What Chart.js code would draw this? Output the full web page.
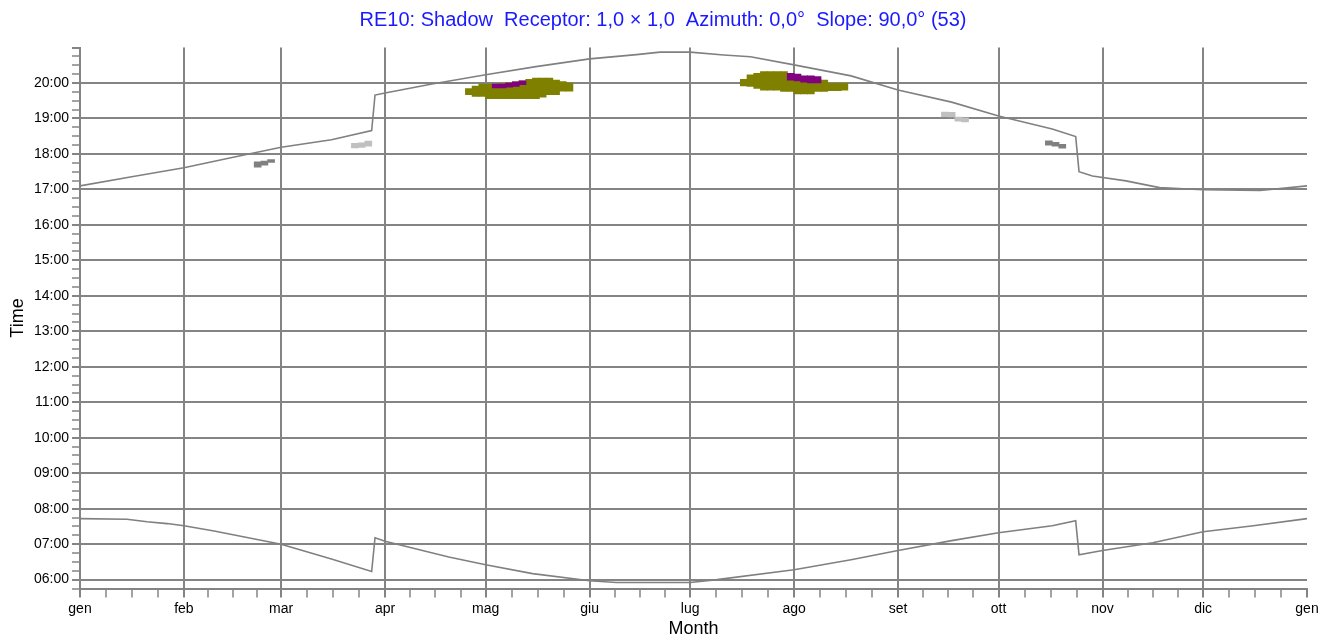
<!DOCTYPE html>
<html>
<head>
<meta charset="utf-8">
<title>RE10 Shadow</title>
<script src="https://cdn.jsdelivr.net/npm/chart.js@4.4.1/dist/chart.umd.min.js"></script>
<style>
    html, body { margin: 0; padding: 0; background: #fff; }
    canvas { display: block; }
</style>
</head>
<body>
<canvas id="shadowChart" width="1337" height="640"></canvas>
<script>
// Month starts as day of a leap year, and their labels
const monthStarts = [0, 31, 60, 91, 121, 152, 182, 213, 244, 274, 305, 335, 366];
const monthLabels = ['gen', 'feb', 'mar', 'apr', 'mag', 'giu', 'lug', 'ago', 'set', 'ott', 'nov', 'dic', 'gen'];

// Sunset (upper line), hours
const sunsetDays  = [0, 15, 31, 45, 60, 75, 87, 88, 91, 105, 121, 136, 152, 166, 173, 182, 192, 200, 213, 230, 244, 260, 274, 290, 297, 298, 302, 312, 322, 335, 352, 366];
const sunsetTimes = [17.10, 17.35, 17.61, 17.89, 18.19, 18.40, 18.66, 19.66, 19.72, 19.97, 20.23, 20.46, 20.68, 20.80, 20.87, 20.87, 20.79, 20.74, 20.51, 20.20, 19.80, 19.46, 19.07, 18.70, 18.49, 17.50, 17.38, 17.24, 17.05, 16.99, 16.97, 17.10];

// Sunrise (lower line), hours
const sunriseDays  = [0, 14, 20, 26, 31, 40, 60, 75, 87, 88, 91, 110, 121, 135, 152, 160, 182, 190, 213, 230, 244, 260, 274, 290, 297, 298, 305, 320, 335, 350, 366];
const sunriseTimes = [7.72, 7.70, 7.63, 7.58, 7.52, 7.37, 7.00, 6.58, 6.23, 7.18, 7.08, 6.64, 6.42, 6.17, 5.97, 5.92, 5.92, 6.00, 6.28, 6.56, 6.82, 7.10, 7.32, 7.52, 7.66, 6.70, 6.82, 7.04, 7.35, 7.52, 7.72];

// Shadow periods: day, from (h), to (h)
const oliveDays = [116, 118, 120, 122, 124, 126, 128, 130, 132, 134, 136, 138, 140, 142, 144, 146,
                   198, 200, 202, 204, 206, 208, 210, 212, 214, 216, 218, 220, 222, 224, 226, 228];
const oliveFrom = [19.67, 19.62, 19.62, 19.56, 19.56, 19.56, 19.56, 19.56, 19.56, 19.56, 19.56, 19.60, 19.67, 19.67, 19.77, 19.77,
                   19.92, 19.90, 19.85, 19.80, 19.80, 19.80, 19.76, 19.76, 19.69, 19.69, 19.69, 19.76, 19.76, 19.78, 19.78, 19.80];
const oliveTo   = [19.84, 19.91, 19.97, 19.97, 19.97, 19.99, 20.01, 20.03, 20.06, 20.10, 20.14, 20.14, 20.14, 20.08, 20.04, 20.00,
                   20.10, 20.23, 20.27, 20.32, 20.32, 20.32, 20.32, 20.27, 20.22, 20.18, 20.15, 20.10, 20.08, 19.99, 19.99, 19.99];

const purpleDays = [124, 126, 128, 130, 132, 212, 214, 216, 218, 220];
const purpleFrom = [19.86, 19.86, 19.88, 19.90, 19.95, 20.08, 20.06, 20.02, 20.00, 20.00];
const purpleTo   = [19.97, 19.97, 20.00, 20.03, 20.06, 20.27, 20.25, 20.20, 20.20, 20.18];

const darkGrayDays = [53, 55, 57, 289, 291, 293];
const darkGrayFrom = [17.63, 17.68, 17.76, 18.25, 18.22, 18.16];
const darkGrayTo   = [17.78, 17.80, 17.84, 18.37, 18.33, 18.27];

const lightGrayDays = [82, 84, 86, 258, 260, 262, 264];
const lightGrayFrom = [18.17, 18.18, 18.22, 19.05, 19.04, 18.92, 18.90];
const lightGrayTo   = [18.30, 18.31, 18.36, 19.18, 19.17, 19.04, 19.02];

const gridGray = '#848484';
const fontFamily = "'Liberation Sans', Arial, sans-serif";

Chart.defaults.color = '#000';
Chart.defaults.font.family = fontFamily;

function toPoints(days, values) {
    return days.map((d, i) => ({ x: d, y: values[i] }));
}

function lineSet(label, days, values) {
    return {
        type: 'line',
        label: label,
        data: toPoints(days, values),
        borderColor: '#808080',
        borderWidth: 1.6,
        pointRadius: 0,
        fill: false,
        tension: 0,
        order: 3
    };
}

function shadowSet(label, days, from, to, color, order) {
    return {
        type: 'bar',
        label: label,
        data: days.map((d, i) => ({ x: d, y: [from[i], to[i]] })),
        backgroundColor: color,
        borderWidth: 0,
        barThickness: 7,
        grouped: false,
        order: order
    };
}

// quarter-month minor ticks between month starts
function buildMonthTicks(scale) {
    const ticks = [];
    for (let i = 0; i < monthStarts.length; i++) {
        ticks.push({ value: monthStarts[i], major: true });
        if (i < monthStarts.length - 1) {
            const step = (monthStarts[i + 1] - monthStarts[i]) / 4;
            for (let k = 1; k < 4; k++) {
                ticks.push({ value: monthStarts[i] + k * step, major: false });
            }
        }
    }
    scale.ticks = ticks;
}

// every quarter hour from 05:45 to 21:00
function buildTimeTicks(scale) {
    const ticks = [];
    for (let v = 5.75; v <= 21; v += 0.25) {
        ticks.push({ value: v, major: Number.isInteger(v) });
    }
    scale.ticks = ticks;
}

const ctx = document.getElementById('shadowChart').getContext('2d');
new Chart(ctx, {
    type: 'bar',
    data: {
        datasets: [
            lineSet('Sunset', sunsetDays, sunsetTimes),
            lineSet('Sunrise', sunriseDays, sunriseTimes),
            shadowSet('WT A', purpleDays, purpleFrom, purpleTo, '#800080', 0),
            shadowSet('WT B', oliveDays, oliveFrom, oliveTo, '#808000', 1),
            shadowSet('WT C', darkGrayDays, darkGrayFrom, darkGrayTo, '#808080', 1),
            shadowSet('WT D', lightGrayDays, lightGrayFrom, lightGrayTo, '#c0c0c0', 1)
        ]
    },
    options: {
        responsive: false,
        animation: false,
        // left padding only shifts the centred title; the y axis box makes up the rest
        layout: { padding: { left: 19, right: 30, top: 0, bottom: 0 } },
        plugins: {
            legend: { display: false },
            tooltip: { enabled: false },
            title: {
                display: true,
                text: 'RE10: Shadow  Receptor: 1,0 \u00d7 1,0  Azimuth: 0,0\u00b0  Slope: 90,0\u00b0 (53)',
                color: '#1a1aff',
                font: { size: 20, weight: 'normal', family: fontFamily, lineHeight: 1.2 },
                padding: { top: 8, bottom: 15.5 }
            }
        },
        scales: {
            x: {
                type: 'linear',
                min: 0,
                max: 366,
                offset: false,
                z: 1,
                afterBuildTicks: buildMonthTicks,
                afterFit: s => { s.height = 51.5; },
                ticks: {
                    autoSkip: false,
                    maxRotation: 0,
                    padding: 3,
                    font: { size: 14 },
                    callback: (value, index, ticks) => ticks[index].major ? monthLabels[monthStarts.indexOf(value)] : ''
                },
                grid: {
                    offset: false,
                    color: c => (c.tick && c.tick.major && c.tick.value > 0 && c.tick.value < 366) ? gridGray : 'rgba(0,0,0,0)',
                    lineWidth: 2,
                    tickLength: 9,
                    tickColor: gridGray,
                    tickWidth: c => (c.tick && c.tick.major) ? 2 : 1.5
                },
                border: { display: true, color: gridGray, width: 2 },
                title: { display: true, text: 'Month', font: { size: 18 }, padding: { top: 0, bottom: 0 } }
            },
            y: {
                type: 'linear',
                min: 5.75,
                max: 21,
                z: 1,
                afterBuildTicks: buildTimeTicks,
                afterFit: s => { s.width = 61; },
                ticks: {
                    autoSkip: false,
                    padding: 3,
                    font: { size: 14 },
                    callback: value => (Number.isInteger(value) && value >= 6 && value <= 20)
                        ? String(value).padStart(2, '0') + ':00' : ''
                },
                grid: {
                    offset: false,
                    color: c => (c.tick && c.tick.major && c.tick.value >= 6 && c.tick.value <= 20) ? gridGray : 'rgba(0,0,0,0)',
                    lineWidth: 2,
                    tickLength: 8,
                    tickColor: gridGray,
                    tickWidth: c => (c.tick && c.tick.major) ? 2 : 1.5
                },
                border: { display: true, color: gridGray, width: 2 },
                title: { display: true, text: 'Time', font: { size: 18 }, padding: { top: -12, bottom: 0 } }
            }
        }
    }
});
</script>
</body>
</html>
